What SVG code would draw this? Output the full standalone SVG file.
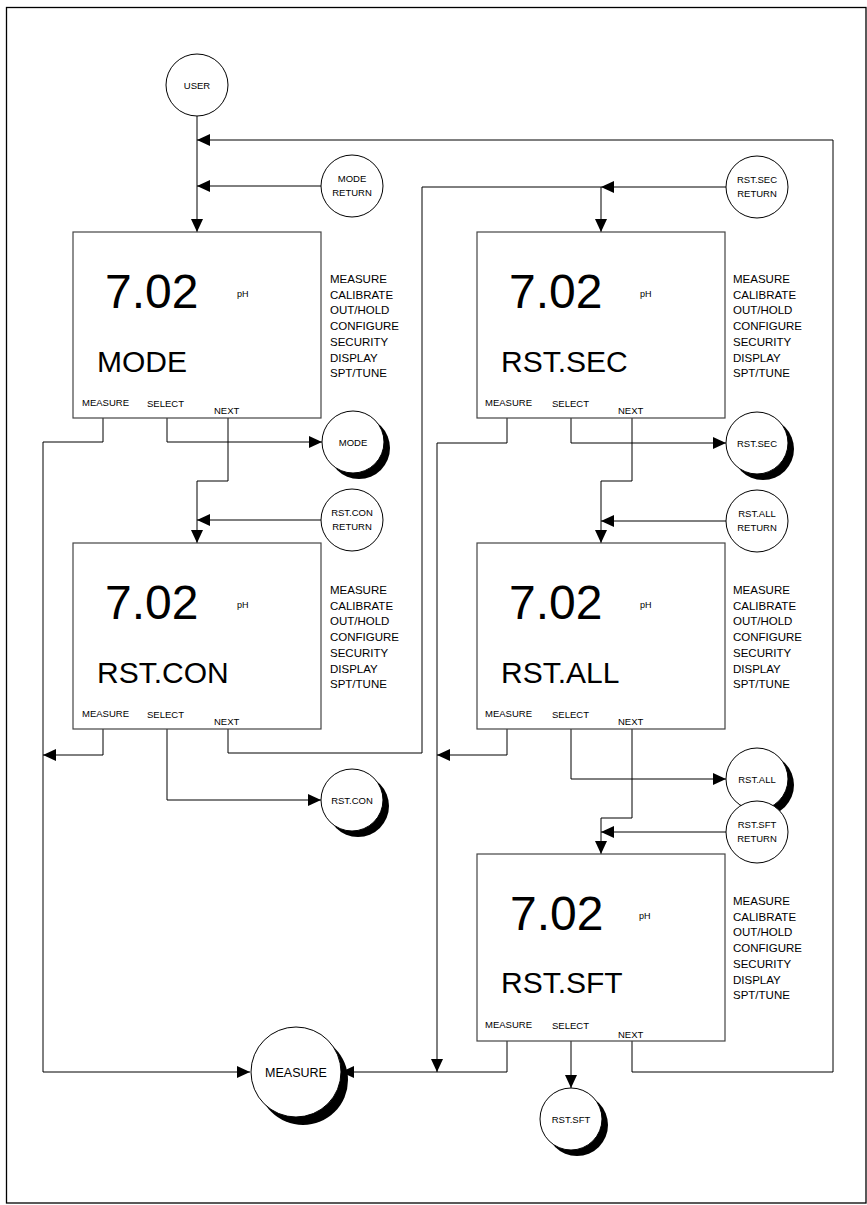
<svg xmlns="http://www.w3.org/2000/svg" width="867" height="1205" viewBox="0 0 867 1205">
<style>
.box{fill:#fff;stroke:#444;stroke-width:1.2}
.c{fill:#fff;stroke:#000;stroke-width:1}
.sh{fill:#000}
.t{font-family:"Liberation Sans",Arial,sans-serif;fill:#000}
.big{font-size:48px}
.lbl{font-size:30px}
.ph{font-size:9px}
.key{font-size:9.5px}
.menu{font-size:11.5px}
.cl{font-size:9.5px;text-anchor:middle}
.ln{fill:none;stroke:#000;stroke-width:1;marker-end:url(#ah)}
</style>
<defs>
<marker id="ah" markerUnits="userSpaceOnUse" markerWidth="13" markerHeight="12" refX="13" refY="6" orient="auto">
<path d="M0,0 L13,6 L0,12 z" fill="#000"/>
</marker>
</defs>
<rect x="6.5" y="7.5" width="859.5" height="1195.5" fill="#fff" stroke="#000" stroke-width="1.3"/>

<g id="connectors">
<path class="ln" d="M197,116 V232"/>
<path class="ln" d="M632,1041 V1072 H833 V140 H197"/>
<path class="ln" d="M321,186 H197"/>
<path class="ln" d="M103,418 V442 H43 V1072 H250"/>
<path class="ln" d="M167,418 V442 H322"/>
<path class="ln" d="M228,418 V481 H197 V543"/>
<path class="ln" d="M321,520 H197"/>
<path class="ln" d="M103,729 V755 H43"/>
<path class="ln" d="M167,729 V800 H321"/>
<path class="ln" d="M228,729 V753 H422 V187 H601 V232"/>
<path class="ln" d="M726,187 H601"/>
<path class="ln" d="M507,418 V443 H437 V1072"/>
<path class="ln" d="M571,418 V443 H726"/>
<path class="ln" d="M632,418 V481 H601 V543"/>
<path class="ln" d="M726,521 H601"/>
<path class="ln" d="M507,729 V755 H437"/>
<path class="ln" d="M571,729 V779 H726"/>
<path class="ln" d="M632,729 V818 H601 V854"/>
<path class="ln" d="M726,832 H601"/>
<path class="ln" d="M507,1041 V1072 H341"/>
<path class="ln" d="M571,1041 V1088"/>
</g>

<g id="user"><circle class="c" cx="197" cy="85" r="31"/><text class="t cl" x="197" y="88.5">USER</text></g>
<g id="mode-return"><circle class="c" cx="352" cy="186" r="31"/><text class="t cl" x="352" y="182">MODE</text><text class="t cl" x="352" y="196">RETURN</text></g>
<g id="mode-end"><circle class="sh" cx="359" cy="448" r="31"/><circle class="c" cx="353" cy="442" r="31"/><text class="t cl" x="353" y="445.5">MODE</text></g>
<g id="rstcon-return"><circle class="c" cx="352" cy="520" r="31"/><text class="t cl" x="352" y="516">RST.CON</text><text class="t cl" x="352" y="530">RETURN</text></g>
<g id="rstcon-end"><circle class="sh" cx="358" cy="806" r="31"/><circle class="c" cx="352" cy="800" r="31"/><text class="t cl" x="352" y="803.5">RST.CON</text></g>
<g id="rstsec-return"><circle class="c" cx="757" cy="187" r="31"/><text class="t cl" x="757" y="183">RST.SEC</text><text class="t cl" x="757" y="197">RETURN</text></g>
<g id="rstsec-end"><circle class="sh" cx="763" cy="449" r="31"/><circle class="c" cx="757" cy="443" r="31"/><text class="t cl" x="757" y="446.5">RST.SEC</text></g>
<g id="rstall-return"><circle class="c" cx="757" cy="521" r="31"/><text class="t cl" x="757" y="517">RST.ALL</text><text class="t cl" x="757" y="531">RETURN</text></g>
<g id="rstall-end"><circle class="sh" cx="763" cy="785" r="31"/><circle class="c" cx="757" cy="779" r="31"/><text class="t cl" x="757" y="782.5">RST.ALL</text></g>
<g id="rstsft-return"><circle class="c" cx="757" cy="832" r="31"/><text class="t cl" x="757" y="828">RST.SFT</text><text class="t cl" x="757" y="842">RETURN</text></g>
<g id="rstsft-end"><circle class="sh" cx="577" cy="1125" r="31"/><circle class="c" cx="571" cy="1119" r="31"/><text class="t cl" x="571" y="1122.5">RST.SFT</text></g>
<g id="measure-end"><circle class="sh" cx="303" cy="1080" r="45"/><circle class="c" cx="296" cy="1072" r="45"/><text class="t" x="296" y="1077" font-size="12.5" text-anchor="middle">MEASURE</text></g>

<g id="box-mode" transform="translate(73,232)">
<rect class="box" x="0" y="0" width="248" height="186"/>
<text class="t big" x="32" y="76">7.02</text><text class="t ph" x="164" y="65">pH</text>
<text class="t lbl" x="24" y="140">MODE</text>
<text class="t key" x="9" y="174">MEASURE</text><text class="t key" x="74" y="175">SELECT</text><text class="t key" x="141" y="182">NEXT</text>
<g class="t menu"><text x="257" y="51">MEASURE</text><text x="257" y="66.7">CALIBRATE</text><text x="257" y="82.4">OUT/HOLD</text><text x="257" y="98.1">CONFIGURE</text><text x="257" y="113.8">SECURITY</text><text x="257" y="129.5">DISPLAY</text><text x="257" y="145.2">SPT/TUNE</text></g>
</g>
<g id="box-rstcon" transform="translate(73,543)">
<rect class="box" x="0" y="0" width="248" height="186"/>
<text class="t big" x="32" y="76">7.02</text><text class="t ph" x="164" y="65">pH</text>
<text class="t lbl" x="24" y="140">RST.CON</text>
<text class="t key" x="9" y="174">MEASURE</text><text class="t key" x="74" y="175">SELECT</text><text class="t key" x="141" y="182">NEXT</text>
<g class="t menu"><text x="257" y="51">MEASURE</text><text x="257" y="66.7">CALIBRATE</text><text x="257" y="82.4">OUT/HOLD</text><text x="257" y="98.1">CONFIGURE</text><text x="257" y="113.8">SECURITY</text><text x="257" y="129.5">DISPLAY</text><text x="257" y="145.2">SPT/TUNE</text></g>
</g>
<g id="box-rstsec" transform="translate(477,232)">
<rect class="box" x="0" y="0" width="248" height="186"/>
<text class="t big" x="32" y="76">7.02</text><text class="t ph" x="163" y="65">pH</text>
<text class="t lbl" x="24" y="140">RST.SEC</text>
<text class="t key" x="8" y="174">MEASURE</text><text class="t key" x="75" y="175">SELECT</text><text class="t key" x="141" y="182">NEXT</text>
<g class="t menu"><text x="256" y="51">MEASURE</text><text x="256" y="66.7">CALIBRATE</text><text x="256" y="82.4">OUT/HOLD</text><text x="256" y="98.1">CONFIGURE</text><text x="256" y="113.8">SECURITY</text><text x="256" y="129.5">DISPLAY</text><text x="256" y="145.2">SPT/TUNE</text></g>
</g>
<g id="box-rstall" transform="translate(477,543)">
<rect class="box" x="0" y="0" width="248" height="186"/>
<text class="t big" x="32" y="76">7.02</text><text class="t ph" x="163" y="65">pH</text>
<text class="t lbl" x="24" y="140">RST.ALL</text>
<text class="t key" x="8" y="174">MEASURE</text><text class="t key" x="75" y="175">SELECT</text><text class="t key" x="141" y="182">NEXT</text>
<g class="t menu"><text x="256" y="51">MEASURE</text><text x="256" y="66.7">CALIBRATE</text><text x="256" y="82.4">OUT/HOLD</text><text x="256" y="98.1">CONFIGURE</text><text x="256" y="113.8">SECURITY</text><text x="256" y="129.5">DISPLAY</text><text x="256" y="145.2">SPT/TUNE</text></g>
</g>
<g id="box-rstsft" transform="translate(477,854)">
<rect class="box" x="0" y="0" width="248" height="187"/>
<text class="t big" x="33" y="76">7.02</text><text class="t ph" x="162" y="65">pH</text>
<text class="t lbl" x="24" y="139">RST.SFT</text>
<text class="t key" x="8" y="174">MEASURE</text><text class="t key" x="75" y="175">SELECT</text><text class="t key" x="141" y="184">NEXT</text>
<g class="t menu"><text x="256" y="51">MEASURE</text><text x="256" y="66.7">CALIBRATE</text><text x="256" y="82.4">OUT/HOLD</text><text x="256" y="98.1">CONFIGURE</text><text x="256" y="113.8">SECURITY</text><text x="256" y="129.5">DISPLAY</text><text x="256" y="145.2">SPT/TUNE</text></g>
</g>
</svg>
